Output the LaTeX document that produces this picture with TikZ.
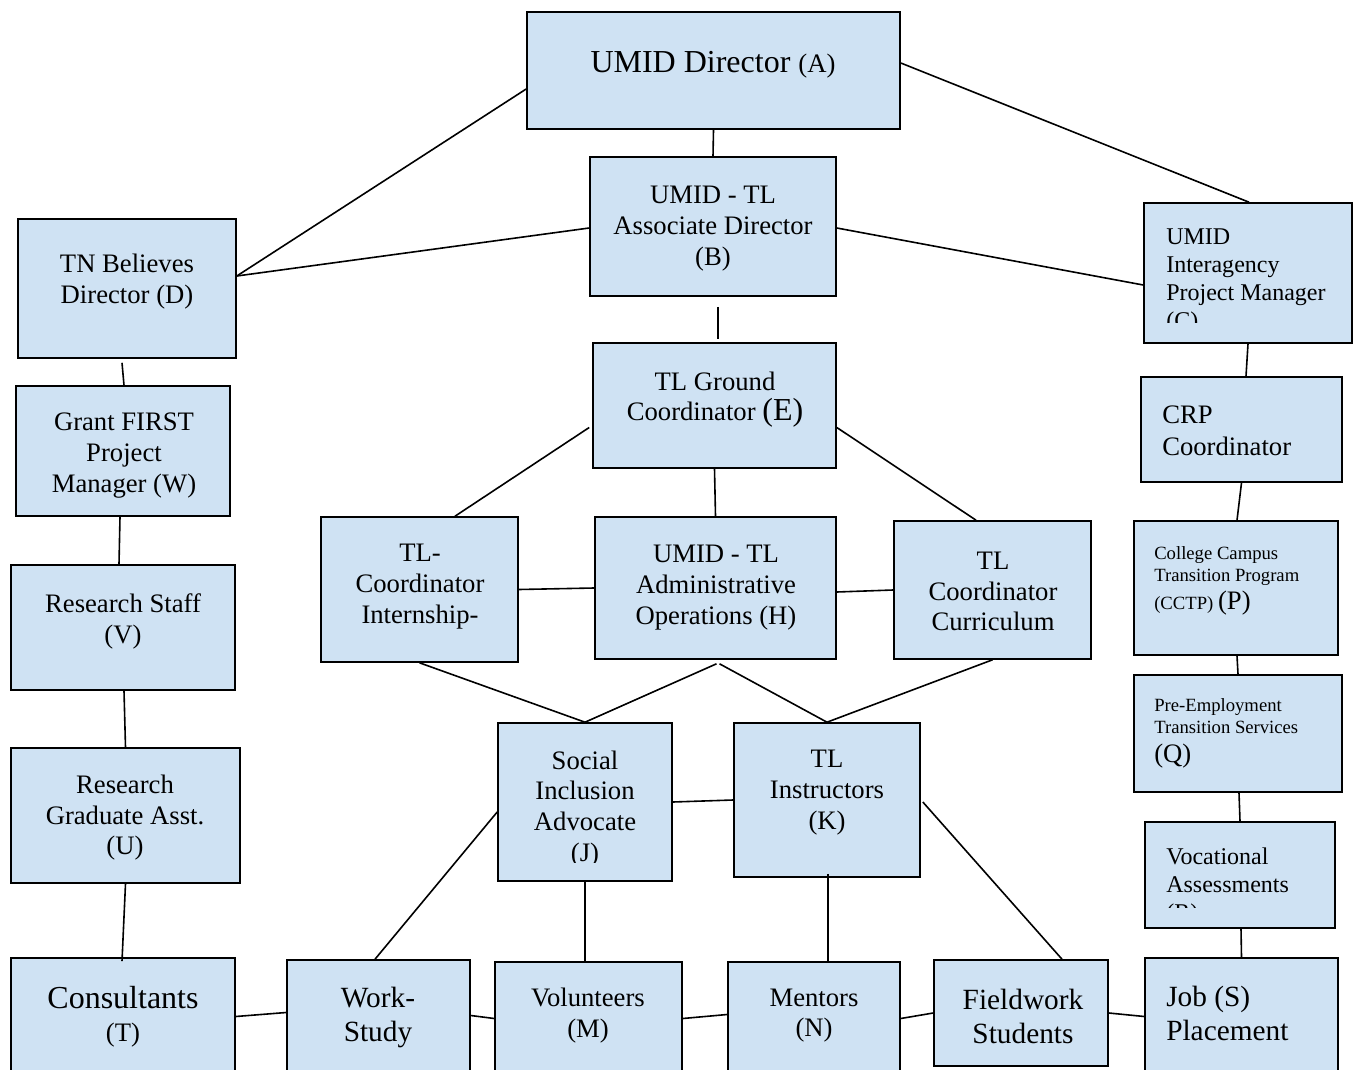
\documentclass[tikz,border=0pt]{standalone}
\usepackage{fontspec}
\setmainfont{Liberation Serif}
\usetikzlibrary{fit,calc}
\definecolor{boxblue}{HTML}{CFE2F3}
\begin{document}
\begin{tikzpicture}[x=0.75pt,y=-0.75pt,
  box/.style={draw=black, fill=boxblue, line width=1.2pt, inner sep=0pt},
  lbl/.style={align=center, font=\fontsize{20}{23}\selectfont, inner sep=0pt, yshift=-2pt},
  lbll/.style={align=left, anchor=west, inner sep=0pt, yshift=-2pt},
  conn/.style={line width=1.2pt}]
\useasboundingbox (0,0) rectangle (1356,1070);
% boxes
\node[box, fit={(527,12)(900,129)}] (A) {};
\node[box, fit={(590,157)(836,296)}] (B) {};
\node[box, fit={(1144,203)(1352,343)}] (C) {};
\node[box, fit={(18,219)(236,358)}] (D) {};
\node[box, fit={(16,386)(230,516)}] (W) {};
\node[box, fit={(11,565)(235,690)}] (V) {};
\node[box, fit={(11,748)(240,883)}] (U) {};
\node[box, fit={(11,958)(235,1075)}] (T) {};
\node[box, fit={(593,343)(836,468)}] (E) {};
\node[box, fit={(1141,377)(1342,482)}] (CRP) {};
\node[box, fit={(1134,521)(1338,655)}] (P) {};
\node[box, fit={(1134,675)(1342,792)}] (Q) {};
\node[box, fit={(1145,822)(1335,928)}] (R) {};
\node[box, fit={(1145,958)(1338,1075)}] (S) {};
\node[box, fit={(321,517)(518,662)}] (F) {};
\node[box, fit={(595,517)(836,659)}] (H) {};
\node[box, fit={(894,521)(1091,659)}] (G) {};
\node[box, fit={(498,723)(672,881)}] (J) {};
\node[box, fit={(734,723)(920,877)}] (K) {};
\node[box, fit={(287,960)(470,1075)}] (WS) {};
\node[box, fit={(495,962)(682,1075)}] (M) {};
\node[box, fit={(728,962)(900,1075)}] (N) {};
\node[box, fit={(934,960)(1108,1066)}] (FS) {};
% labels
\node[lbl] (At) at (713,62) {\fontsize{24}{28}\selectfont UMID Director {\fontsize{20}{23}\selectfont(A)}};
\node[lbl] (Bt) at (713,226) {UMID - TL\\Associate Director\\(B)};
\begin{scope}
\clip (1144,203) rectangle (1352,322);
\node[lbll, font=\fontsize{18}{21}\selectfont] (Ct) at (1166,279) {UMID\\Interagency\\Project Manager\\(C)};
\end{scope}
\node[lbl] (Dt) at (127,279) {TN Believes\\Director (D)};
\node[lbl] (Wt) at (124,453) {Grant FIRST\\Project\\Manager (W)};
\node[lbl] (Vt) at (123,619) {Research Staff\\(V)};
\node[lbl] (Ut) at (125,815) {Research\\Graduate Asst.\\(U)};
\node[lbl] (Tt) at (123,1014) {\fontsize{24}{28}\selectfont Consultants\\[2pt](T)};
\node[lbl] (Et) at (715,397) {TL Ground\\Coordinator {\fontsize{24}{26}\selectfont(E)}};
\node[lbll, font=\fontsize{20}{24}\selectfont] (CRPt) at (1162,428) {CRP\\Coordinator};
\node[lbll, font=\fontsize{14}{16.5}\selectfont] (Pt) at (1154,578) {College Campus\\Transition Program\\[3pt](CCTP) {\fontsize{20}{20}\selectfont(P)}};
\node[lbll, font=\fontsize{14}{16.5}\selectfont] (Qt) at (1154,731) {Pre-Employment\\Transition Services\\[5pt]{\fontsize{20}{20}\selectfont(Q)}};
\begin{scope}
\clip (1145,822) rectangle (1335,907);
\node[lbll, font=\fontsize{18}{21}\selectfont] (Rt) at (1166,884) {Vocational\\Assessments\\(R)};
\end{scope}
\node[lbll, font=\fontsize{22}{25.5}\selectfont] (St) at (1166,1011) {Job (S)\\Placement};
\node[lbl] (Ft) at (420,584) {TL-\\Coordinator\\Internship-};
\node[lbl] (Ht) at (716,585) {UMID - TL\\Administrative\\Operations (H)};
\node[lbl] (Gt) at (993,589) {TL\\Coordinator\\Curriculum};
\begin{scope}
\clip (498,723) rectangle (672,862);
\node[lbl] (Jt) at (585,806) {Social\\Inclusion\\Advocate\\(J)};
\end{scope}
\node[lbl] (Kt) at (827,790) {TL\\Instructors\\(K)};
\node[lbl, font=\fontsize{22}{25.5}\selectfont] (WSt) at (378,1015) {Work-\\Study};
\node[lbl] (Mt) at (588,1013) {Volunteers\\(M)};
\node[lbl] (Nt) at (814,1013) {Mentors\\(N)};
\node[lbl, font=\fontsize{22}{25.5}\selectfont] (FSt) at (1023,1014) {Fieldwork\\Students};
% connectors
\coordinate (Kb) at ($(K.south)+(1,-4)$);
\draw[conn] (A.south) -- (B.north);
\draw[conn] ($(A.west)+(0,18.5)$) -- ($(D.east)+(0,-12.5)$);
\draw[conn] ($(A.east)+(0,-7.5)$) -- ($(C.north)+(1,0)$);
\draw[conn] ($(B.west)+(0,1.5)$) -- ($(D.east)+(0,-12.5)$);
\draw[conn] ($(B.east)+(0,1.5)$) -- ($(C.west)+(0,12)$);
\draw[conn] ($(B.south)+(5,10)$) -- ($(E.north)+(3.5,-3)$);
\draw[conn] ($(D.south)+(-5,4)$) -- ($(W.north)+(1,0)$);
\draw[conn] ($(W.south)+(-3,0)$) -- ($(V.north)+(-4,0)$);
\draw[conn] ($(V.south)+(1,0)$) -- (U.north);
\draw[conn] (U.south) -- ($(T.north)+(-1,4)$);
\draw[conn] (C.south) -- ($(CRP.north)+(4.5,0)$);
\draw[conn] (CRP.south) -- ($(P.north)+(1,0)$);
\draw[conn] ($(P.south)+(1,0)$) -- (Q.north);
\draw[conn] ($(Q.south)+(1,0)$) -- (R.north);
\draw[conn] ($(R.south)+(1,0)$) -- (S.north);
\draw[conn] ($(E.west)+(-3,22)$) -- ($(F.north)+(35.5,0)$);
\draw[conn] (E.south) -- (H.north);
\draw[conn] ($(E.east)+(0,22)$) -- ($(G.north)+(-16.5,0)$);
\draw[conn] (F.east) -- (H.west);
\draw[conn] ($(H.east)+(0,4)$) -- (G.west);
\draw[conn] (F.south) -- (J.north);
\draw[conn] ($(H.south)+(1,4)$) -- (J.north);
\draw[conn] ($(H.south)+(4,4)$) -- (K.north);
\draw[conn] (G.south) -- (K.north);
\draw[conn] (J.east) -- (K.west);
\draw[conn] ($(J.west)+(0,10)$) -- ($(WS.north)+(-3.5,0)$);
\draw[conn] (J.south) -- (J.south |- M.north);
\draw[conn] (Kb) -- (Kb |- N.north);
\draw[conn] ($(K.east)+(2,2)$) -- ($(FS.north)+(41,0)$);
\draw[conn] (T.east) -- ($(WS.west)+(0,-5)$);
\draw[conn] ($(WS.east)+(0,-2)$) -- (M.west);
\draw[conn] (M.east) -- ($(N.west)+(0,-4)$);
\draw[conn] (N.east) -- (FS.west);
\draw[conn] (FS.east) -- (S.west);
\end{tikzpicture}
\end{document}
